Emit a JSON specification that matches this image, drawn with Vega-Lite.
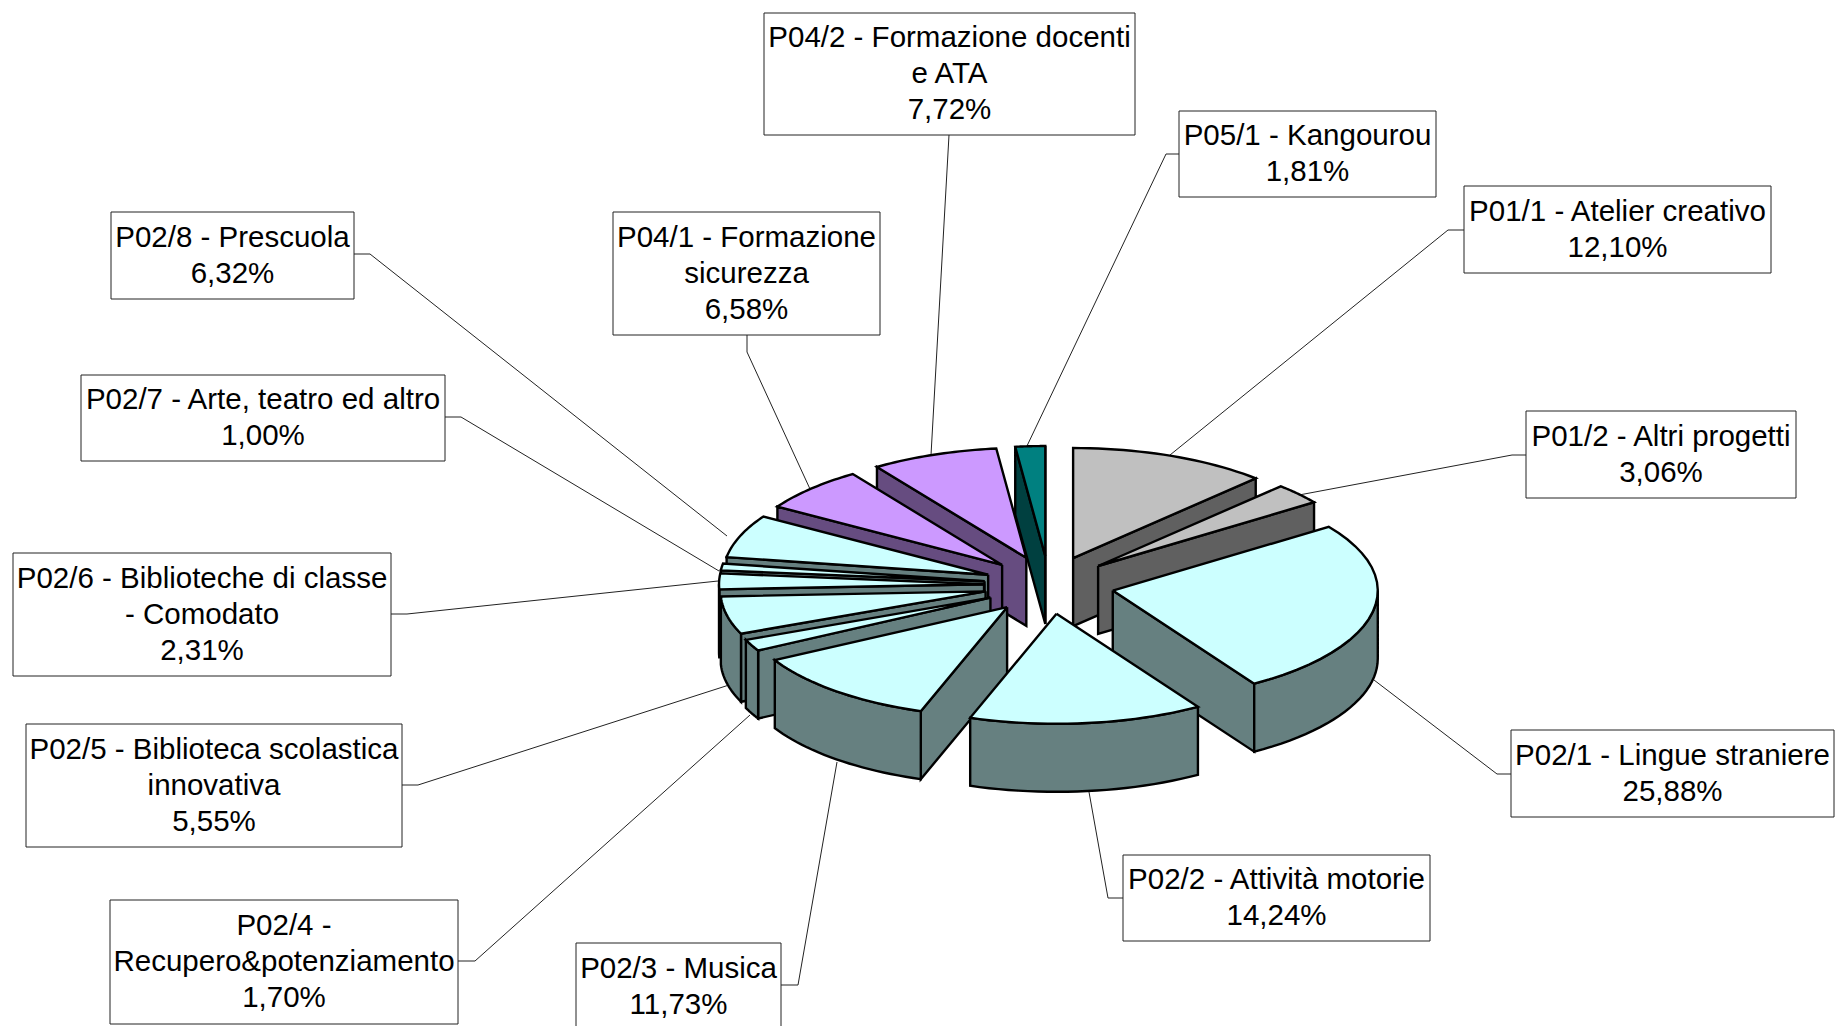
{
  "$schema": "https://vega.github.io/schema/vega-lite/v6.json",
  "width": 1838,
  "height": 1026,
  "padding": 0,
  "autosize": {"type": "fit", "contains": "padding"},
  "background": "white",
  "view": {"stroke": null},
  "params": [
    {"name": "pie", "value": {"cx": 1049, "cy": 585, "ex": 65, "ey": 29, "rx": 265, "ry": 110, "depth": 68}},
    {"name": "callouts", "value": {
      "P01/1": {"x0": 1464, "y0": 186, "x1": 1771, "y1": 273, "ax": 1464, "ay": 230, "ex": 1448, "ey": 230, "tx": 1170, "ty": 455},
      "P01/2": {"x0": 1526, "y0": 411, "x1": 1796, "y1": 498, "ax": 1526, "ay": 455, "ex": 1512, "ey": 455, "tx": 1299, "ty": 495},
      "P02/1": {"x0": 1511, "y0": 730, "x1": 1834, "y1": 817, "ax": 1511, "ay": 774, "ex": 1497, "ey": 774, "tx": 1374, "ty": 680},
      "P02/2": {"x0": 1123, "y0": 855, "x1": 1430, "y1": 941, "ax": 1123, "ay": 898, "ex": 1108, "ey": 898, "tx": 1089, "ty": 792},
      "P02/3": {"x0": 576, "y0": 943, "x1": 781, "y1": 1030, "ax": 781, "ay": 985, "ex": 798, "ey": 985, "tx": 837, "ty": 762},
      "P02/4": {"x0": 110, "y0": 900, "x1": 458, "y1": 1024, "ax": 458, "ay": 961, "ex": 475, "ey": 961, "tx": 750, "ty": 715},
      "P02/5": {"x0": 26, "y0": 724, "x1": 402, "y1": 847, "ax": 402, "ay": 785, "ex": 418, "ey": 785, "tx": 729, "ty": 685},
      "P02/6": {"x0": 13, "y0": 553, "x1": 391, "y1": 676, "ax": 391, "ay": 614, "ex": 407, "ey": 614, "tx": 718, "ty": 581},
      "P02/7": {"x0": 81, "y0": 375, "x1": 445, "y1": 461, "ax": 445, "ay": 417, "ex": 461, "ey": 417, "tx": 719, "ty": 571},
      "P02/8": {"x0": 111, "y0": 212, "x1": 354, "y1": 299, "ax": 354, "ay": 254, "ex": 370, "ey": 254, "tx": 727, "ty": 536},
      "P04/1": {"x0": 613, "y0": 212, "x1": 880, "y1": 335, "ax": 747, "ay": 335, "ex": 747, "ey": 352, "tx": 810, "ty": 489},
      "P04/2": {"x0": 764, "y0": 13, "x1": 1135, "y1": 135, "ax": 949, "ay": 135, "ex": 949, "ey": 135, "tx": 931, "ty": 455},
      "P05/1": {"x0": 1179, "y0": 111, "x1": 1436, "y1": 197, "ax": 1179, "ay": 154, "ex": 1166, "ey": 154, "tx": 1026, "ty": 448}
    }}
  ],
  "data": {"values": [
    {"ordine": 13, "voce": "P05/1 - Kangourou", "quota": 1.81},
    {"ordine": 1, "voce": "P01/1 - Atelier creativo", "quota": 12.10},
    {"ordine": 12, "voce": "P04/2 - Formazione docenti\ne ATA", "quota": 7.72},
    {"ordine": 11, "voce": "P04/1 - Formazione\nsicurezza", "quota": 6.58},
    {"ordine": 2, "voce": "P01/2 - Altri progetti", "quota": 3.06},
    {"ordine": 10, "voce": "P02/8 - Prescuola", "quota": 6.32},
    {"ordine": 9, "voce": "P02/7 - Arte, teatro ed altro", "quota": 1.00},
    {"ordine": 8, "voce": "P02/6 - Biblioteche di classe\n- Comodato", "quota": 2.31},
    {"ordine": 7, "voce": "P02/5 - Biblioteca scolastica\ninnovativa", "quota": 5.55},
    {"ordine": 6, "voce": "P02/4 -\nRecupero&potenziamento", "quota": 1.70},
    {"ordine": 3, "voce": "P02/1 - Lingue straniere", "quota": 25.88},
    {"ordine": 5, "voce": "P02/3 - Musica", "quota": 11.73},
    {"ordine": 4, "voce": "P02/2 - Attività motorie", "quota": 14.24}
  ]},
  "transform": [
    {"calculate": "substring(datum.voce, 0, 5)", "as": "codice"},
    {"calculate": "callouts[datum.codice]", "as": "box"},
    {"calculate": "datum.voce + '\\n' + replace(format(datum.quota, '.2f'), '.', ',') + '%'", "as": "testo"},
    {"calculate": "(datum.box.x0 + datum.box.x1) / 2", "as": "mx"},
    {"calculate": "(datum.box.y0 + datum.box.y1) / 2 - (length(split(datum.testo, '\\n')) - 1) * 18", "as": "my"}
  ],
  "encoding": {},
  "layer": [
    {
      "mark": {"type": "rule", "stroke": "#222222", "strokeWidth": 1, "clip": true},
      "encoding": {
        "x": {"field": "box.ax", "type": "quantitative", "scale": {"domain": [0, 1838], "nice": false, "zero": false}, "axis": null},
        "y": {"field": "box.ay", "type": "quantitative", "scale": {"domain": [1026, 0], "nice": false, "zero": false}, "axis": null},
        "x2": {"field": "box.ex"},
        "y2": {"field": "box.ey"}
      }
    },
    {
      "mark": {"type": "rule", "stroke": "#222222", "strokeWidth": 1, "clip": true},
      "encoding": {
        "x": {"field": "box.ex", "type": "quantitative", "axis": null},
        "y": {"field": "box.ey", "type": "quantitative", "axis": null},
        "x2": {"field": "box.tx"},
        "y2": {"field": "box.ty"}
      }
    },
    {
      "transform": [
        {"window": [{"op": "sum", "field": "quota", "as": "fine"}], "sort": [{"field": "ordine", "order": "ascending"}], "frame": [null, 0]},
        {"calculate": "(datum.fine - datum.quota) / 100 * 2 * PI", "as": "t0"},
        {"calculate": "datum.fine / 100 * 2 * PI", "as": "t1"},
        {"calculate": "(datum.t0 + datum.t1) / 2", "as": "tm"},
        {"calculate": "pie.cx + pie.ex * sin(datum.tm)", "as": "ox"},
        {"calculate": "pie.cy - pie.ey * cos(datum.tm)", "as": "oy"},
        {"calculate": "max(datum.t0, PI / 2)", "as": "fa"},
        {"calculate": "min(datum.t1, 3 * PI / 2)", "as": "fb"},
        {"calculate": "['a', 'b', 'c', 'd']", "as": "parte"},
        {"flatten": ["parte"]},
        {"filter": "datum.parte == 'd' || (datum.parte == 'c' && datum.fa < datum.fb) || (datum.parte == 'a' && sin(datum.t0) < 0) || (datum.parte == 'b' && sin(datum.t1) > 0)"},
        {"calculate": "[0,1,2,3,4,5,6,7,8,9,10,11,12,13,14,15,16,17,18,19,20,21,22,23,24,25,26,27,28,29,30,31,32,33,34,35,36,37,38,39,40,41,42,43,44,45,46,47,48,49,50]", "as": "k"},
        {"flatten": ["k"]},
        {"filter": "datum.k <= (datum.parte == 'c' ? 50 : datum.parte == 'd' ? 26 : 4)"},
        {"calculate": "datum.parte == 'a' ? datum.t0 : datum.parte == 'b' ? datum.t1 : datum.parte == 'd' ? datum.t0 + (datum.t1 - datum.t0) * (datum.k - 1) / 24 : datum.k <= 24 ? datum.fa + (datum.fb - datum.fa) * datum.k / 24 : datum.k <= 49 ? datum.fb - (datum.fb - datum.fa) * (datum.k - 25) / 24 : datum.fa", "as": "th"},
        {"calculate": "datum.parte == 'c' ? 1 : datum.parte == 'd' ? (datum.k > 0 && datum.k < 26 ? 1 : 0) : (datum.k == 1 || datum.k == 2 ? 1 : 0)", "as": "rim"},
        {"calculate": "datum.parte == 'c' ? (datum.k >= 25 && datum.k <= 49 ? 1 : 0) : datum.parte == 'd' ? 0 : (datum.k == 2 || datum.k == 3 ? 1 : 0)", "as": "giu"},
        {"calculate": "datum.ox + datum.rim * pie.rx * sin(datum.th)", "as": "px"},
        {"calculate": "datum.oy - datum.rim * pie.ry * cos(datum.th) + datum.giu * pie.depth", "as": "py"},
        {"calculate": "datum.codice + datum.parte", "as": "faccia"},
        {"calculate": "substring(datum.voce, 0, 3) + (datum.parte == 'd' ? ' sopra' : ' lato')", "as": "tinta"}
      ],
      "mark": {"type": "line", "stroke": "black", "strokeWidth": 2.4, "strokeJoin": "miter", "interpolate": "linear", "clip": true},
      "encoding": {
        "x": {"field": "px", "type": "quantitative", "axis": null},
        "y": {"field": "py", "type": "quantitative", "axis": null},
        "detail": {"field": "faccia"},
        "order": {"field": "k", "type": "quantitative"},
        "fill": {
          "field": "tinta",
          "type": "nominal",
          "legend": null,
          "scale": {
            "domain": ["P01 sopra", "P01 lato", "P02 sopra", "P02 lato", "P04 sopra", "P04 lato", "P05 sopra", "P05 lato"],
            "range": ["#C0C0C0", "#606060", "#CCFFFF", "#668080", "#CC99FF", "#664C80", "#008080", "#004040"]
          }
        }
      }
    },
    {
      "mark": {"type": "rect", "fill": "white", "stroke": "#222222", "strokeWidth": 1, "clip": true},
      "encoding": {
        "x": {"field": "box.x0", "type": "quantitative", "axis": null},
        "y": {"field": "box.y0", "type": "quantitative", "axis": null},
        "x2": {"field": "box.x1"},
        "y2": {"field": "box.y1"}
      }
    },
    {
      "mark": {"type": "text", "font": "Liberation Sans", "fontSize": 29.5, "lineHeight": 36, "lineBreak": "\n", "align": "center", "baseline": "middle", "color": "black", "clip": true},
      "encoding": {
        "x": {"field": "mx", "type": "quantitative", "axis": null},
        "y": {"field": "my", "type": "quantitative", "axis": null},
        "text": {"field": "testo", "type": "nominal"}
      }
    }
  ]
}
